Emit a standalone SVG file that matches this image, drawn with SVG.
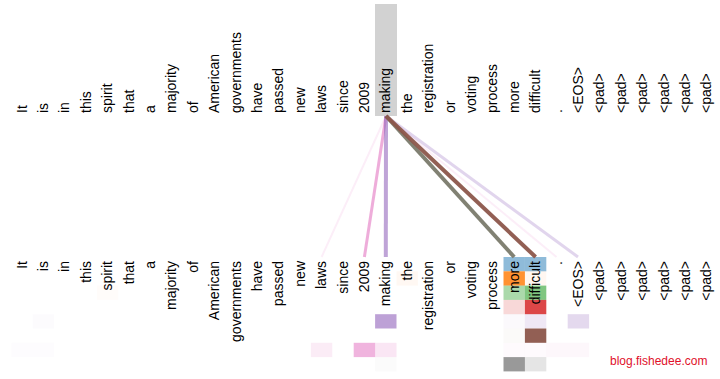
<svg xmlns="http://www.w3.org/2000/svg" width="720" height="379" viewBox="0 0 720 379">
<style>
.t{font-family:"Liberation Sans",Arial,sans-serif;font-size:14px;fill:#000}
.b{text-anchor:end}
.c{stroke-linecap:butt;fill:none}
.wm{font-family:"Liberation Sans",Arial,sans-serif;font-size:12px;fill:#e0102a}
</style>
<rect width="720" height="379" fill="#fff"/>
<rect id="focus" x="375" y="4" width="22" height="112" fill="#d2d2d2"/>
<g id="heatmap">
<rect x="503.5" y="257" width="21.4" height="14.3" fill="#1f77b4" fill-opacity="0.5"/>
<rect x="503.5" y="271.3" width="21.4" height="14.3" fill="#ff7f0e" fill-opacity="0.85"/>
<rect x="503.5" y="285.6" width="21.4" height="14.3" fill="#2ca02c" fill-opacity="0.4"/>
<rect x="503.5" y="299.9" width="21.4" height="14.3" fill="#d62728" fill-opacity="0.18"/>
<rect x="503.5" y="314.2" width="21.4" height="14.3" fill="#9467bd" fill-opacity="0.04"/>
<rect x="503.5" y="328.5" width="21.4" height="14.3" fill="#8c564b" fill-opacity="0.03"/>
<rect x="503.5" y="342.8" width="21.4" height="14.3" fill="#e377c2" fill-opacity="0.04"/>
<rect x="503.5" y="357.1" width="21.4" height="14.3" fill="#7f7f7f" fill-opacity="0.8"/>
<rect x="524.9" y="257" width="21.4" height="14.3" fill="#1f77b4" fill-opacity="0.5"/>
<rect x="524.9" y="271.3" width="21.4" height="14.3" fill="#ff7f0e" fill-opacity="0.06"/>
<rect x="524.9" y="285.6" width="21.4" height="14.3" fill="#2ca02c" fill-opacity="0.6"/>
<rect x="524.9" y="299.9" width="21.4" height="14.3" fill="#d62728" fill-opacity="0.85"/>
<rect x="524.9" y="314.2" width="21.4" height="14.3" fill="#9467bd" fill-opacity="0.15"/>
<rect x="524.9" y="328.5" width="21.4" height="14.3" fill="#8c564b" fill-opacity="0.95"/>
<rect x="524.9" y="342.8" width="21.4" height="14.3" fill="#e377c2" fill-opacity="0.04"/>
<rect x="524.9" y="357.1" width="21.4" height="14.3" fill="#7f7f7f" fill-opacity="0.2"/>
<rect x="567.7" y="314.2" width="21.4" height="14.3" fill="#9467bd" fill-opacity="0.25"/>
<rect x="546.3" y="342.8" width="42.8" height="14.3" fill="#e377c2" fill-opacity="0.06"/>
<rect x="375.1" y="314.2" width="21.4" height="14.3" fill="#9467bd" fill-opacity="0.62"/>
<rect x="375.1" y="342.8" width="21.4" height="14.3" fill="#e377c2" fill-opacity="0.18"/>
<rect x="375.1" y="357.1" width="21.4" height="14.3" fill="#7f7f7f" fill-opacity="0.03"/>
<rect x="353.7" y="342.8" width="21.4" height="14.3" fill="#e377c2" fill-opacity="0.55"/>
<rect x="310.9" y="342.8" width="21.4" height="14.3" fill="#e377c2" fill-opacity="0.14"/>
<rect x="396.5" y="271.3" width="21.4" height="14.3" fill="#ff7f0e" fill-opacity="0.05"/>
<rect x="32.7" y="314.2" width="21.4" height="14.3" fill="#9467bd" fill-opacity="0.025"/>
<rect x="11.3" y="342.8" width="42.8" height="14.3" fill="#9467bd" fill-opacity="0.02"/>
<rect x="96.9" y="285.6" width="21.4" height="14.3" fill="#ff7f0e" fill-opacity="0.02"/>
</g>
<g id="connectors">
<line class="c" x1="386" y1="116" x2="321.6" y2="257" stroke="#e377c2" stroke-opacity="0.12" stroke-width="2"/>
<line class="c" x1="386" y1="116" x2="556.5" y2="257" stroke="#e377c2" stroke-opacity="0.12" stroke-width="2"/>
<line class="c" x1="386" y1="116" x2="578" y2="257" stroke="#9467bd" stroke-opacity="0.28" stroke-width="3"/>
<line class="c" x1="386" y1="116" x2="364.4" y2="257" stroke="#e377c2" stroke-opacity="0.6" stroke-width="3"/>
<line class="c" x1="386" y1="116" x2="385.8" y2="257" stroke="#9467bd" stroke-opacity="0.6" stroke-width="4"/>
<line class="c" x1="386" y1="116" x2="514.2" y2="257" stroke="#7a7a6c" stroke-opacity="0.95" stroke-width="4"/>
<line class="c" x1="386" y1="116" x2="535.6" y2="257" stroke="#8c564b" stroke-opacity="0.95" stroke-width="4"/>
</g>
<g id="top-tokens" class="t">
<g id="top-0"><text transform="translate(26.5,113) rotate(-90)">It</text></g>
<g id="top-1"><text transform="translate(47.9,113) rotate(-90)">is</text></g>
<g id="top-2"><text transform="translate(69.3,113) rotate(-90)">in</text></g>
<g id="top-3"><text transform="translate(90.7,113) rotate(-90)">this</text></g>
<g id="top-4"><text transform="translate(112.1,113) rotate(-90)">spirit</text></g>
<g id="top-5"><text transform="translate(133.5,113) rotate(-90)">that</text></g>
<g id="top-6"><text transform="translate(154.9,113) rotate(-90)">a</text></g>
<g id="top-7"><text transform="translate(176.3,113) rotate(-90)">majority</text></g>
<g id="top-8"><text transform="translate(197.7,113) rotate(-90)">of</text></g>
<g id="top-9"><text transform="translate(219.1,113) rotate(-90)">American</text></g>
<g id="top-10"><text transform="translate(240.5,113) rotate(-90)">governments</text></g>
<g id="top-11"><text transform="translate(261.9,113) rotate(-90)">have</text></g>
<g id="top-12"><text transform="translate(283.3,113) rotate(-90)">passed</text></g>
<g id="top-13"><text transform="translate(304.7,113) rotate(-90)">new</text></g>
<g id="top-14"><text transform="translate(326.1,113) rotate(-90)">laws</text></g>
<g id="top-15"><text transform="translate(347.5,113) rotate(-90)">since</text></g>
<g id="top-16"><text transform="translate(368.9,113) rotate(-90)">2009</text></g>
<g id="top-17"><text transform="translate(390.3,113) rotate(-90)">making</text></g>
<g id="top-18"><text transform="translate(411.7,113) rotate(-90)">the</text></g>
<g id="top-19"><text transform="translate(433.1,113) rotate(-90)">registration</text></g>
<g id="top-20"><text transform="translate(454.5,113) rotate(-90)">or</text></g>
<g id="top-21"><text transform="translate(475.9,113) rotate(-90)">voting</text></g>
<g id="top-22"><text transform="translate(497.3,113) rotate(-90)">process</text></g>
<g id="top-23"><text transform="translate(518.7,113) rotate(-90)">more</text></g>
<g id="top-24"><text transform="translate(540.1,113) rotate(-90)">difficult</text></g>
<g id="top-25"><text transform="translate(561.5,113) rotate(-90)">.</text></g>
<g id="top-26"><text transform="translate(582.9,113) rotate(-90)">&lt;EOS&gt;</text></g>
<g id="top-27"><text transform="translate(604.3,113) rotate(-90)">&lt;pad&gt;</text></g>
<g id="top-28"><text transform="translate(625.7,113) rotate(-90)">&lt;pad&gt;</text></g>
<g id="top-29"><text transform="translate(647.1,113) rotate(-90)">&lt;pad&gt;</text></g>
<g id="top-30"><text transform="translate(668.5,113) rotate(-90)">&lt;pad&gt;</text></g>
<g id="top-31"><text transform="translate(689.9,113) rotate(-90)">&lt;pad&gt;</text></g>
<g id="top-32"><text transform="translate(711.3,113) rotate(-90)">&lt;pad&gt;</text></g>
</g>
<g id="bottom-tokens" class="t b">
<g id="bot-0"><text transform="translate(26.5,261) rotate(-90)">It</text></g>
<g id="bot-1"><text transform="translate(47.9,261) rotate(-90)">is</text></g>
<g id="bot-2"><text transform="translate(69.3,261) rotate(-90)">in</text></g>
<g id="bot-3"><text transform="translate(90.7,261) rotate(-90)">this</text></g>
<g id="bot-4"><text transform="translate(112.1,261) rotate(-90)">spirit</text></g>
<g id="bot-5"><text transform="translate(133.5,261) rotate(-90)">that</text></g>
<g id="bot-6"><text transform="translate(154.9,261) rotate(-90)">a</text></g>
<g id="bot-7"><text transform="translate(176.3,261) rotate(-90)">majority</text></g>
<g id="bot-8"><text transform="translate(197.7,261) rotate(-90)">of</text></g>
<g id="bot-9"><text transform="translate(219.1,261) rotate(-90)">American</text></g>
<g id="bot-10"><text transform="translate(240.5,261) rotate(-90)">governments</text></g>
<g id="bot-11"><text transform="translate(261.9,261) rotate(-90)">have</text></g>
<g id="bot-12"><text transform="translate(283.3,261) rotate(-90)">passed</text></g>
<g id="bot-13"><text transform="translate(304.7,261) rotate(-90)">new</text></g>
<g id="bot-14"><text transform="translate(326.1,261) rotate(-90)">laws</text></g>
<g id="bot-15"><text transform="translate(347.5,261) rotate(-90)">since</text></g>
<g id="bot-16"><text transform="translate(368.9,261) rotate(-90)">2009</text></g>
<g id="bot-17"><text transform="translate(390.3,261) rotate(-90)">making</text></g>
<g id="bot-18"><text transform="translate(411.7,261) rotate(-90)">the</text></g>
<g id="bot-19"><text transform="translate(433.1,261) rotate(-90)">registration</text></g>
<g id="bot-20"><text transform="translate(454.5,261) rotate(-90)">or</text></g>
<g id="bot-21"><text transform="translate(475.9,261) rotate(-90)">voting</text></g>
<g id="bot-22"><text transform="translate(497.3,261) rotate(-90)">process</text></g>
<g id="bot-23"><text transform="translate(518.7,261) rotate(-90)">more</text></g>
<g id="bot-24"><text transform="translate(540.1,261) rotate(-90)">difficult</text></g>
<g id="bot-25"><text transform="translate(561.5,261) rotate(-90)">.</text></g>
<g id="bot-26"><text transform="translate(582.9,261) rotate(-90)">&lt;EOS&gt;</text></g>
<g id="bot-27"><text transform="translate(604.3,261) rotate(-90)">&lt;pad&gt;</text></g>
<g id="bot-28"><text transform="translate(625.7,261) rotate(-90)">&lt;pad&gt;</text></g>
<g id="bot-29"><text transform="translate(647.1,261) rotate(-90)">&lt;pad&gt;</text></g>
<g id="bot-30"><text transform="translate(668.5,261) rotate(-90)">&lt;pad&gt;</text></g>
<g id="bot-31"><text transform="translate(689.9,261) rotate(-90)">&lt;pad&gt;</text></g>
<g id="bot-32"><text transform="translate(711.3,261) rotate(-90)">&lt;pad&gt;</text></g>
</g>
<text class="wm" x="610" y="365">blog.fishedee.com</text>
</svg>
